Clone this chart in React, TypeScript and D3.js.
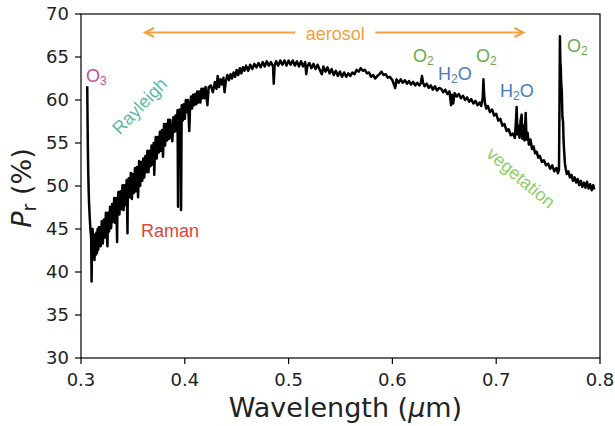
import React from "react";
import * as d3 from "d3";

// ---- data (wavelength in µm, polarized reflectance Pr in %) ----
const uvSegment: [number, number][] = [
  [0.3060, 61.6], [0.3063, 58.0], [0.3066, 54.5], [0.3070, 51.5], [0.3074, 49.4],
  [0.3078, 47.9], [0.3083, 46.6], [0.3088, 45.5], [0.3093, 44.6], [0.3098, 43.9],
  [0.3102, 38.9], [0.3106, 42.8], [0.3112, 45.0], [0.3118, 41.7], [0.3124, 44.4],
  [0.3130, 41.4], [0.3136, 44.2], [0.3142, 42.0], [0.3148, 44.6], [0.3154, 42.2],
  [0.3160, 45.0], [0.3166, 42.6], [0.3172, 45.2], [0.3176, 43.0],
  [0.318, 45.2], [0.319, 43.0], [0.320, 45.9], [0.321, 43.3], [0.322, 46.1],
  [0.323, 44.0], [0.324, 46.9], [0.325, 44.0], [0.3255, 43.0], [0.326, 46.9],
  [0.327, 44.7], [0.328, 47.6], [0.329, 45.1], [0.330, 47.9], [0.331, 45.8],
  [0.332, 48.6], [0.333, 45.7], [0.334, 48.6], [0.3348, 43.5], [0.335, 46.4],
  [0.336, 49.3], [0.337, 46.7], [0.338, 49.4], [0.339, 47.3], [0.340, 50.1],
  [0.341, 47.2], [0.342, 50.1], [0.343, 47.8], [0.344, 50.7], [0.3448, 44.5],
  [0.345, 48.1], [0.346, 50.9], [0.347, 48.7], [0.348, 51.5], [0.349, 48.5],
  [0.350, 51.4], [0.351, 49.2], [0.352, 52.1], [0.353, 49.4], [0.354, 52.2],
  [0.355, 48.7], [0.356, 52.9], [0.357, 50.0], [0.358, 52.8], [0.359, 50.6],
  [0.360, 53.2], [0.361, 51.0], [0.362, 53.5], [0.363, 51.6], [0.364, 54.1],
  [0.365, 51.6], [0.366, 54.1], [0.367, 52.3], [0.368, 54.7], [0.369, 52.5],
  [0.370, 55.0], [0.3706, 51.3], [0.371, 53.2], [0.372, 55.7], [0.373, 53.2],
  [0.374, 55.7], [0.375, 53.9], [0.376, 56.3], [0.377, 54.1], [0.378, 56.5],
  [0.379, 53.4], [0.380, 57.2], [0.381, 54.7], [0.382, 57.2], [0.383, 55.3],
  [0.384, 57.7], [0.385, 55.5], [0.386, 57.7], [0.387, 56.2], [0.388, 55.2],
  [0.389, 58.0], [0.390, 56.3], [0.391, 58.2], [0.392, 56.4], [0.393, 58.8],
  [0.3935, 47.6], [0.394, 57.0], [0.395, 58.9], [0.396, 57.2], [0.3964, 47.2],
  [0.397, 59.4], [0.398, 57.6], [0.399, 59.5], [0.400, 57.8], [0.401, 60.0],
  [0.402, 58.6], [0.403, 60.0], [0.4043, 56.4], [0.405, 58.9], [0.406, 60.4],
  [0.407, 59.0], [0.408, 60.6], [0.409, 59.4], [0.410, 60.7], [0.411, 59.5],
  [0.412, 61.0], [0.413, 59.7], [0.414, 61.0], [0.415, 59.7], [0.416, 61.3],
  [0.417, 60.2], [0.418, 61.3], [0.419, 60.2], [0.420, 61.5], [0.4218, 59.4],
  [0.423, 61.5],
];

const visSegment: [number, number][] = [
  [0.4250, 61.7], [0.4270, 60.9], [0.4290, 62.1], [0.4305, 61.3], [0.4317, 62.8],
  [0.4330, 61.5], [0.4345, 62.4], [0.4360, 61.8], [0.4372, 62.6], [0.4383, 60.9],
  [0.4395, 62.2], [0.4410, 62.9], [0.4425, 62.3], [0.4440, 63.0], [0.4455, 62.5],
  [0.4470, 63.2], [0.4485, 62.7], [0.4500, 63.5], [0.4515, 62.9], [0.4530, 63.7],
  [0.4545, 63.1], [0.4560, 63.8], [0.4575, 63.4], [0.4590, 64.0], [0.4610, 63.4],
  [0.4630, 64.1], [0.4650, 63.6], [0.4670, 64.2], [0.4690, 63.8], [0.4710, 64.3],
  [0.4730, 63.8], [0.4750, 64.4], [0.4770, 63.9], [0.4790, 64.5], [0.4810, 64.0],
  [0.4830, 64.4], [0.4850, 63.9], [0.4857, 61.9], [0.4865, 64.0], [0.4880, 64.5],
  [0.4900, 64.0], [0.4920, 64.6], [0.4940, 64.1], [0.4960, 64.6], [0.4980, 64.0],
  [0.5000, 64.6], [0.5020, 64.1], [0.5040, 64.6], [0.5060, 64.0], [0.5080, 64.5],
  [0.5100, 63.9], [0.5120, 64.5], [0.5140, 63.9], [0.5160, 64.4], [0.5170, 63.0],
  [0.5180, 63.9], [0.5200, 64.3], [0.5220, 63.7], [0.5240, 64.2], [0.5260, 63.6],
  [0.5280, 64.1], [0.5300, 63.5], [0.5320, 63.0], [0.5335, 63.9], [0.5355, 63.3],
  [0.5375, 63.8], [0.5395, 63.1], [0.5415, 63.6], [0.5435, 62.9], [0.5455, 63.4],
  [0.5475, 62.8], [0.5495, 63.3], [0.5515, 62.7], [0.5535, 63.2], [0.5555, 62.7],
  [0.5575, 63.1], [0.5595, 62.8], [0.5615, 63.2], [0.5635, 63.0], [0.5655, 63.5],
  [0.5675, 63.3], [0.5695, 63.7], [0.5715, 63.4], [0.5735, 63.5], [0.5755, 63.1],
  [0.5775, 63.2], [0.5795, 62.7], [0.5815, 62.9], [0.5835, 62.5], [0.5855, 62.8],
  [0.5875, 63.0], [0.5895, 63.3], [0.5915, 62.9], [0.5935, 63.0], [0.5955, 62.6],
  [0.5975, 62.7], [0.6000, 62.3], [0.6027, 61.4], [0.6040, 62.4],
];

const nirSegment: [number, number][] = [
  [0.6060, 62.0], [0.6080, 62.4], [0.6100, 62.0], [0.6120, 62.3], [0.6140, 61.9],
  [0.6160, 62.2], [0.6180, 61.8], [0.6200, 62.1], [0.6220, 61.7], [0.6240, 62.0],
  [0.6260, 61.7], [0.6275, 62.0], [0.6285, 62.8], [0.6295, 62.0], [0.6310, 61.6],
  [0.6330, 61.9], [0.6350, 61.4], [0.6370, 61.7], [0.6390, 61.2], [0.6410, 61.6],
  [0.6430, 61.1], [0.6450, 61.4], [0.6470, 61.3], [0.6490, 60.9], [0.6510, 61.2],
  [0.6530, 60.7], [0.6550, 61.0], [0.6565, 59.4], [0.6575, 60.6], [0.6585, 59.6],
  [0.6600, 60.8], [0.6620, 60.4], [0.6640, 60.7], [0.6660, 60.2], [0.6680, 60.5],
  [0.6700, 60.0], [0.6720, 60.3], [0.6740, 59.8], [0.6760, 60.1], [0.6780, 59.6],
  [0.6800, 59.9], [0.6820, 59.4], [0.6840, 59.7], [0.6855, 59.3], [0.6870, 60.2],
  [0.6877, 62.4], [0.6884, 60.6], [0.6892, 59.6], [0.6905, 59.0], [0.6920, 59.3],
  [0.6940, 58.6], [0.6960, 58.9], [0.6980, 58.2], [0.7000, 58.4], [0.7020, 57.6],
  [0.7040, 57.8], [0.7060, 57.0], [0.7080, 57.2], [0.7100, 56.4], [0.7120, 56.6],
  [0.7140, 55.9], [0.7160, 56.1], [0.7180, 55.6], [0.7190, 57.5], [0.7197, 59.2],
  [0.7205, 56.0], [0.7215, 57.0], [0.7225, 55.6], [0.7235, 57.6], [0.7245, 58.3],
  [0.7252, 55.5], [0.7262, 57.0], [0.7272, 55.3], [0.7284, 58.5], [0.7292, 55.4],
  [0.7302, 56.2], [0.7315, 54.8], [0.7330, 55.4], [0.7345, 54.3], [0.7360, 54.6],
  [0.7375, 53.8], [0.7390, 54.0], [0.7405, 53.3], [0.7420, 53.5], [0.7440, 52.8],
  [0.7460, 53.0], [0.7480, 52.4], [0.7500, 52.6], [0.7520, 52.0], [0.7540, 52.4],
  [0.7560, 51.7], [0.7580, 52.1], [0.7595, 51.5], [0.7605, 51.9], [0.7610, 60.0],
  [0.7614, 67.4], [0.7618, 64.5], [0.7622, 63.8], [0.7626, 62.0], [0.7632, 61.0],
  [0.7638, 58.0], [0.7644, 57.5], [0.7650, 55.0], [0.7656, 53.8], [0.7662, 52.6],
  [0.7670, 52.0], [0.7680, 51.4], [0.7695, 51.7], [0.7710, 51.0], [0.7725, 51.3],
  [0.7740, 50.6], [0.7755, 51.0], [0.7770, 50.4], [0.7785, 50.8], [0.7800, 50.1],
  [0.7815, 50.6], [0.7830, 49.9], [0.7845, 50.4], [0.7860, 49.8], [0.7875, 50.5],
  [0.7890, 49.7], [0.7905, 50.2], [0.7920, 49.5], [0.7935, 50.1], [0.7945, 49.6],
];

const xTicks = [0.3, 0.4, 0.5, 0.6, 0.7, 0.8];
const yTicks = [30, 35, 40, 45, 50, 55, 60, 65, 70];

// ---- layout ----
const W = 615;
const H = 426;
const left = 81;
const right = 600;
const top = 14;
const bottom = 358;

const TICK_FONT = "'DejaVu Sans', sans-serif";
const ANN_FONT = "'Liberation Sans', Arial, sans-serif";

const colors = {
  aerosol: "#f2a13f",
  o3: "#c0509a",
  rayleigh: "#5cb8a6",
  raman: "#d9453a",
  o2: "#6aaa4e",
  h2o: "#4a7bbd",
  veg: "#8dcc66",
};

type Ann = { text: string; sub?: string; tail?: string; lam: number; p: number; color: string; rot?: number; anchor?: string };

const annotations: Ann[] = [
  { text: "O", sub: "3", lam: 0.3048, p: 62.1, color: colors.o3 },
  { text: "Rayleigh", lam: 0.3607, p: 58.8, color: colors.rayleigh, rot: -46, anchor: "middle" },
  { text: "Raman", lam: 0.3578, p: 44.1, color: colors.raman },
  { text: "O", sub: "2", lam: 0.6198, p: 64.45, color: colors.o2 },
  { text: "O", sub: "2", lam: 0.6805, p: 64.45, color: colors.o2 },
  { text: "O", sub: "2", lam: 0.7682, p: 65.6, color: colors.o2 },
  { text: "H", sub: "2", tail: "O", lam: 0.6439, p: 62.33, color: colors.h2o },
  { text: "H", sub: "2", tail: "O", lam: 0.7037, p: 60.4, color: colors.h2o },
  { text: "vegetation", lam: 0.72, p: 50.4, color: colors.veg, rot: 40, anchor: "middle" },
];

export default function App() {
  const x = d3.scaleLinear().domain([0.3, 0.8]).range([left, right]);
  const y = d3.scaleLinear().domain([30, 70]).range([bottom, top]);
  const spectrum = [...uvSegment, ...visSegment, ...nirSegment];
  const line = d3
    .line<[number, number]>()
    .x((d) => x(d[0]))
    .y((d) => y(d[1]));

  const arrowY = y(67.85);
  const arrowL0 = x(0.5064);
  const arrowL1 = x(0.3617);
  const arrowR0 = x(0.5835);
  const arrowR1 = x(0.7262);
  const head = (xp: number, dir: number) =>
    `M${xp - dir * 9},${arrowY - 4.5} L${xp},${arrowY} L${xp - dir * 9},${arrowY + 4.5}`;

  return (
    <svg
      width={W}
      height={H}
      style={{ position: "absolute", left: 0, top: 0, background: "#fff" }}
    >
      <rect x={0} y={0} width={W} height={H} fill="#fff" />
      {/* spectrum */}
      <path
        d={line(spectrum) || ""}
        fill="none"
        stroke="#000"
        strokeWidth={2.5}
        strokeLinejoin="round"
      />
      {/* aerosol arrows */}
      <g stroke={colors.aerosol} strokeWidth={2} fill="none">
        <line x1={arrowL0} y1={arrowY} x2={arrowL1} y2={arrowY} />
        <path d={head(arrowL1, -1)} />
        <line x1={arrowR0} y1={arrowY} x2={arrowR1} y2={arrowY} />
        <path d={head(arrowR1, 1)} />
      </g>
      <text
        x={x(0.5449)}
        y={y(66.98)}
        textAnchor="middle"
        fontFamily={ANN_FONT}
        fontSize={18}
        fill={colors.aerosol}
      >
        aerosol
      </text>
      {/* annotations */}
      {annotations.map((a, i) => {
        const ax = x(a.lam);
        const ay = y(a.p);
        return (
          <text
            key={i}
            x={ax}
            y={ay}
            fontFamily={ANN_FONT}
            fontSize={18}
            fill={a.color}
            textAnchor={a.anchor || "start"}
            transform={a.rot ? `rotate(${a.rot},${ax},${ay})` : undefined}
          >
            {a.text}
            {a.sub && (
              <tspan fontSize={12} dy={3}>
                {a.sub}
              </tspan>
            )}
            {a.tail && <tspan dy={-3}>{a.tail}</tspan>}
          </text>
        );
      })}
      {/* frame */}
      <rect
        x={left}
        y={top}
        width={right - left}
        height={bottom - top}
        fill="none"
        stroke="#000"
        strokeWidth={1.2}
      />
      {/* x ticks */}
      {xTicks.map((t) => (
        <g key={"x" + t}>
          <line x1={x(t)} x2={x(t)} y1={bottom} y2={bottom + 6} stroke="#000" strokeWidth={1.2} />
          <text
            x={x(t)}
            y={386}
            textAnchor="middle"
            fontFamily={TICK_FONT}
            fontSize={18}
            fill="#222"
          >
            {d3.format(".1f")(t)}
          </text>
        </g>
      ))}
      {/* y ticks */}
      {yTicks.map((t) => (
        <g key={"y" + t}>
          <line x1={left - 6} x2={left} y1={y(t)} y2={y(t)} stroke="#000" strokeWidth={1.2} />
          <text
            x={69}
            y={y(t)}
            dy="0.36em"
            textAnchor="end"
            fontFamily={TICK_FONT}
            fontSize={18}
            fill="#222"
          >
            {t}
          </text>
        </g>
      ))}
      {/* axis titles */}
      <text
        x={(left + right) / 2 + 5}
        y={417}
        textAnchor="middle"
        fontFamily={TICK_FONT}
        fontSize={27}
        fill="#222"
      >
        Wavelength (<tspan fontStyle="italic">μ</tspan>m)
      </text>
      <text
        transform={`translate(31,188) rotate(-90)`}
        textAnchor="middle"
        fontFamily={TICK_FONT}
        fontSize={27}
        fill="#222"
      >
        <tspan fontStyle="italic">P</tspan>
        <tspan fontSize={19} dy={5}>r</tspan>
        <tspan dy={-5}> (%)</tspan>
      </text>
    </svg>
  );
}
